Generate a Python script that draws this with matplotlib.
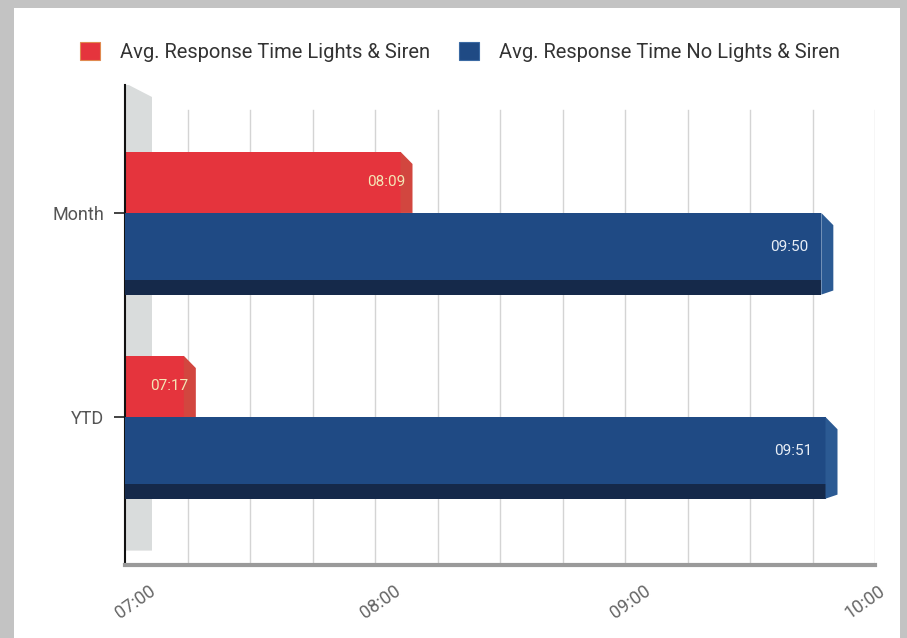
import matplotlib
matplotlib.use("Agg")
import matplotlib.pyplot as plt
from matplotlib.patches import Rectangle, Polygon

plt.rcParams['font.family'] = ['Roboto', 'DejaVu Sans']

# ---- data (mm:ss response times) ----
categories = ["Month", "YTD"]
lights_siren = ["08:09", "07:17"]
no_lights_siren = ["09:50", "09:51"]
series_names = ["Avg. Response Time Lights & Siren", "Avg. Response Time No Lights & Siren"]
x_ticks = ["07:00", "08:00", "09:00", "10:00"]


def to_minutes(s):
    m, sec = s.split(":")
    return int(m) + int(sec) / 60.0


W, H = 907, 638
fig = plt.figure(figsize=(W / 100, H / 100), dpi=100, facecolor="#c3c3c3")

# white sheet behind everything
sheet = Rectangle((14 / W, 0), (900 - 14) / W, 1 - 8 / H,
                  transform=fig.transFigure, facecolor="white",
                  edgecolor="none", zorder=-10)
fig.patches.append(sheet)

ax = fig.add_axes([125 / W, 1 - 565 / H, 750 / W, 480 / H])
ax.set_zorder(5)
ax.set_facecolor("none")

x_min, x_max = to_minutes(x_ticks[0]), to_minutes(x_ticks[-1])

RED = "#e5343d"
RED_SIDE = "#d2463f"
BLUE = "#1f4a84"
BLUE_SIDE = "#2b5a93"
BLUE_BOTTOM = "#15294a"

# back wall on the left and grid
ax.add_patch(Polygon([(0, 0.03), (0.036, 0.03), (0.036, 0.975), (0.005, 1.0), (0, 1.0)],
                     closed=True, transform=ax.transAxes, facecolor="#d9dcdc",
                     edgecolor="none", zorder=0.5))
grid_x = [x_min + 0.25 * k for k in range(1, 13)]
for gx in grid_x:
    ax.axvline(gx, ymin=0, ymax=(565 - 110) / 480, color="#d4d4d4", lw=1.0, zorder=0.6)

d = 12 / 250      # side-face depth in minutes
dy = 0.06         # chamfer height in category units

ys = list(range(len(categories)))
for i, y in enumerate(ys):
    # lights & siren (upper bar)
    v = to_minutes(lights_siren[i])
    top, bot = y - 0.30, y
    ax.barh((top + bot) / 2, v - d - x_min, left=x_min, height=bot - top,
            color=RED, edgecolor="none", zorder=2)
    ax.add_patch(Polygon([(v - d, top), (v, top + dy), (v, bot), (v - d, bot)],
                         closed=True, facecolor=RED_SIDE, edgecolor="none", zorder=2))
    ax.text(v - 0.03, (top + bot) / 2, lights_siren[i], ha="right", va="center",
            color="#f4e6b6", fontsize=11, zorder=5)

    # no lights & siren (lower bar)
    v = to_minutes(no_lights_siren[i])
    top, bot = y, y + 0.40
    ax.barh((top + bot) / 2, v - d - x_min, left=x_min, height=bot - top,
            color=BLUE, edgecolor="none", zorder=3)
    ax.barh(bot - 0.035, v - d - x_min, left=x_min, height=0.07,
            color=BLUE_BOTTOM, edgecolor="none", zorder=3)
    ax.add_patch(Polygon([(v - d, top), (v, top + dy), (v, bot - 0.02), (v - d, bot)],
                         closed=True, facecolor=BLUE_SIDE, edgecolor="none", zorder=3))
    ax.text(v - 0.1, (top + bot - 0.07) / 2, no_lights_siren[i], ha="right", va="center",
            color="#e8eef6", fontsize=11, zorder=5)

# axes styling
for s in ["top", "right"]:
    ax.spines[s].set_visible(False)
ax.spines["left"].set_color("#111111")
ax.spines["left"].set_linewidth(1.5)
ax.spines["bottom"].set_color("#9a9a9a")
ax.spines["bottom"].set_linewidth(3)

ax.set_yticks(ys)
ax.set_yticklabels(categories, fontsize=13, color="#555555")
ax.tick_params(axis="y", length=8, width=1.2, color="#222222", pad=7)

ax.set_xticks([to_minutes(t) for t in x_ticks])
ax.set_xticklabels(x_ticks, rotation=35, ha="center", fontsize=13, color="#666666")
ax.tick_params(axis="x", length=0, pad=12)
for lbl, dx in zip(ax.get_xticklabels(), [10, 5, 5, -10]):
    lbl.set_transform(lbl.get_transform() +
                      matplotlib.transforms.ScaledTranslation(dx / 100, 0, fig.dpi_scale_trans))

ax.set_xlim(x_min, x_max)
ax.set_ylim(1.725, -0.627)

# legend
handles = [Rectangle((0, 0), 1, 1, facecolor=RED, edgecolor="#e08a50", lw=0.8),
           Rectangle((0, 0), 1, 1, facecolor=BLUE, edgecolor="#3b6aa3", lw=0.8)]
fig.legend(handles, series_names, loc="center", bbox_to_anchor=(460 / W, 1 - 52 / H),
           ncol=2, frameon=False, fontsize=14.5, handlelength=1.0, handleheight=1.0,
           columnspacing=1.4, handletextpad=1.0, labelcolor="#333333")

fig.savefig("out.png", dpi=100, facecolor=fig.get_facecolor())
